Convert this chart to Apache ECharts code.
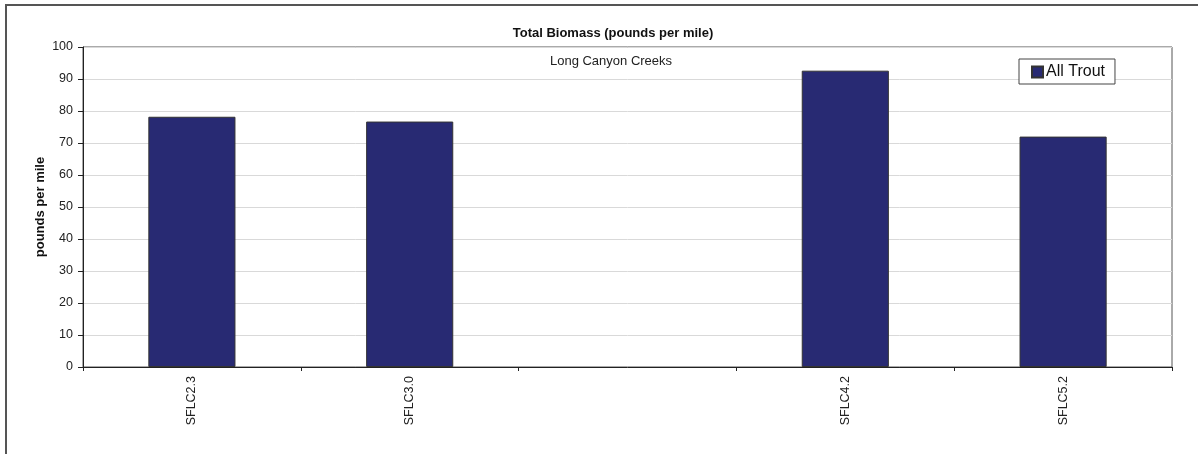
<!DOCTYPE html>
<html>
<head>
<meta charset="utf-8">
<script src="https://cdn.jsdelivr.net/npm/echarts@6/dist/echarts.min.js"></script>
<style>
html,body{margin:0;padding:0;background:#fff;}
#chart{width:1198px;height:454px;}
</style>
</head>
<body>
<div id="chart"></div>
<script>
const categories = ['SFLC2.3', 'SFLC3.0', '', 'SFLC4.2', 'SFLC5.2'];
const allTrout = [78.2, 76.7, null, 92.6, 72.0];
const seriesName = 'All Trout';
const titleText = 'Total Biomass (pounds per mile)';
const subtitleText = 'Long Canyon Creeks';
const yAxisName = 'pounds per mile';

const chart = echarts.init(document.getElementById('chart'), null, {renderer: 'canvas'});
chart.setOption({
  animation: false,
  backgroundColor: '#fff',
  graphic: [{
    type: 'rect', shape: {x: 6, y: 5, width: 1300, height: 600},
    style: {fill: 'none', stroke: '#555', lineWidth: 2}, silent: true, z: -10
  }],
  title: [{
    text: titleText, left: 608, top: 22, textAlign: 'center',
    textStyle: {fontFamily: 'Liberation Sans, Arial', fontSize: 13, fontWeight: 'bold', color: '#111'}
  }, {
    text: subtitleText, left: 606, top: 50, textAlign: 'center',
    textStyle: {fontFamily: 'Liberation Sans, Arial', fontSize: 13, fontWeight: 'normal', color: '#222'}
  }],
  legend: {
    data: [seriesName], left: 1019, top: 59,
    padding: [5, 10, 4, 12], itemGap: 0,
    borderColor: '#444', borderWidth: 1, backgroundColor: '#fff',
    itemWidth: 11, itemHeight: 11, icon: 'rect',
    textStyle: {fontFamily: 'Liberation Sans, Arial', fontSize: 16, color: '#111', padding: [0, 0, 0, -2]}
  },
  grid: {left: 83, right: 26, top: 47, bottom: 87, containLabel: false,
    show: true, borderColor: '#555', borderWidth: 1},
  xAxis: {
    type: 'category', data: categories, boundaryGap: true,
    axisLine: {lineStyle: {color: '#222', width: 1}},
    axisTick: {show: true, length: 4, lineStyle: {color: '#222'}, alignWithLabel: false},
    axisLabel: {rotate: 90, interval: 0, fontFamily: 'Liberation Sans, Arial', fontSize: 12.5, color: '#222', margin: 9},
    splitLine: {show: false}
  },
  yAxis: {
    type: 'value', min: 0, max: 100, interval: 10,
    name: yAxisName, nameLocation: 'middle', nameGap: 36, nameMoveOverlap: false,
    nameTextStyle: {fontFamily: 'Liberation Sans, Arial', fontSize: 13, fontWeight: 'bold', color: '#111'},
    axisLine: {show: true, lineStyle: {color: '#222', width: 1}},
    axisTick: {show: true, length: 5, lineStyle: {color: '#222'}},
    axisLabel: {fontFamily: 'Liberation Sans, Arial', fontSize: 12.5, color: '#222', margin: 10},
    splitLine: {show: true, lineStyle: {color: '#d9d9d9', width: 1}}
  },
  series: [{
    name: seriesName, type: 'bar', data: allTrout, barWidth: '40%',
    itemStyle: {color: '#282a73', borderColor: '#333', borderWidth: 1}
  }]
});
</script>
</body>
</html>
